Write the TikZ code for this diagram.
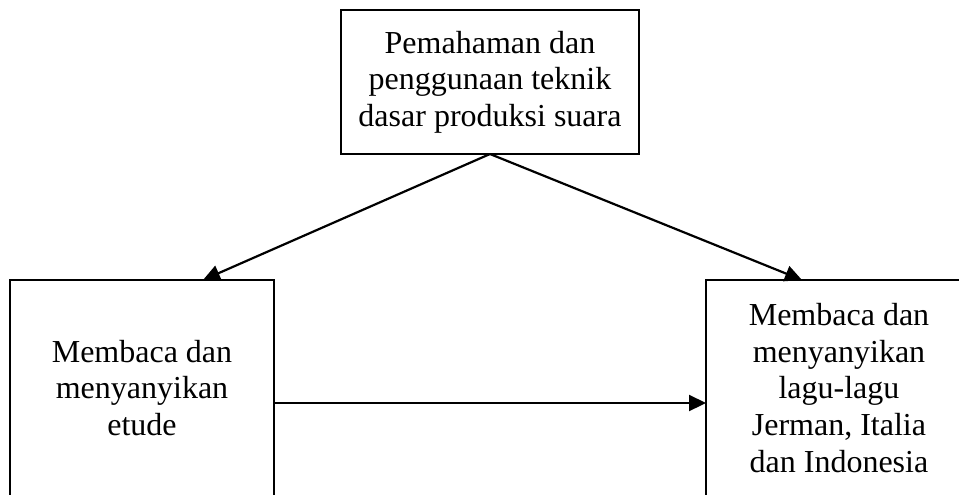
\documentclass[tikz,border=0pt]{standalone}
\usepackage{fontspec}
\setmainfont{Liberation Serif}
\usepackage{tikz}
\usetikzlibrary{positioning}
\usetikzlibrary{arrows.meta}

\begin{document}
\begin{tikzpicture}[x=0.5pt, y=-0.5pt, every node/.style={draw, line width=1pt, inner sep=0, outer sep=0, font=\fontsize{16}{18.3}\selectfont}, align=center]
		\useasboundingbox (0,0) rectangle (959,494);
		\clip (0,0) rectangle (959,494);
		
		%Nodes
		\node[minimum width=149pt, minimum height=72pt] (11) at (490,82) {Pemahaman dan\\penggunaan teknik\\dasar produksi suara};
		\node[minimum width=132pt, minimum height=108pt] (21) at (142,388) {Membaca dan\\menyanyikan\\etude};
		\node[minimum width=133pt, minimum height=108pt] (22) at (839,388) {Membaca dan\\menyanyikan\\lagu-lagu\\Jerman, Italia\\dan Indonesia};
		
		%Lines
		\draw[line width=1.1pt, -{Triangle[length=8.5pt, width=8pt]}] (11.south) -- ([xshift=30.5pt]21.north);
		\draw[line width=1.1pt, -{Triangle[length=8.5pt, width=8pt]}] (11.south) -- ([xshift=-18.5pt]22.north);
		\draw[line width=1.1pt, -{Triangle[length=8.5pt, width=8pt]}] ([yshift=-7.5pt]21.east) -- ([yshift=-7.5pt]22.west);
	\end{tikzpicture}
\end{document}
